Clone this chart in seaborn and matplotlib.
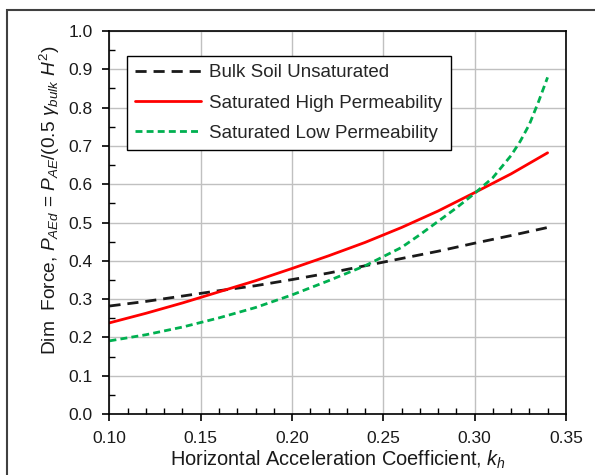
import matplotlib
matplotlib.use("Agg")
import matplotlib.pyplot as plt
import seaborn as sns
import pandas as pd
from matplotlib.ticker import MultipleLocator, FormatStrFormatter
from matplotlib.patches import Rectangle

# Data
kh_bulk = [0.10, 0.12, 0.14, 0.16, 0.18, 0.20, 0.22, 0.24, 0.26, 0.28, 0.30, 0.32, 0.34]
f_bulk = [0.282, 0.294, 0.308, 0.322, 0.335, 0.351, 0.368, 0.387, 0.406, 0.425, 0.446, 0.466, 0.487]

kh_high = [0.10, 0.12, 0.14, 0.16, 0.18, 0.20, 0.22, 0.24, 0.26, 0.28, 0.30, 0.32, 0.34]
f_high = [0.238, 0.263, 0.290, 0.319, 0.348, 0.380, 0.413, 0.448, 0.487, 0.530, 0.578, 0.627, 0.682]

kh_low = [0.10, 0.12, 0.14, 0.16, 0.18, 0.20, 0.22, 0.24, 0.26, 0.27, 0.28, 0.29, 0.30,
          0.31, 0.32, 0.325, 0.33, 0.335, 0.34]
f_low = [0.191, 0.207, 0.227, 0.251, 0.278, 0.311, 0.348, 0.387, 0.435, 0.468, 0.503, 0.538, 0.576,
         0.617, 0.675, 0.712, 0.756, 0.815, 0.879]

labels = ["Bulk Soil Unsaturated", "Saturated High Permeability", "Saturated Low Permeability"]

sns.set_theme(style="white")
plt.rcParams['font.family'] = ['Liberation Sans', 'DejaVu Sans']
plt.rcParams['mathtext.fontset'] = 'custom'
plt.rcParams['mathtext.rm'] = 'Liberation Sans'
plt.rcParams['mathtext.it'] = 'Liberation Sans:italic'

fig = plt.figure(figsize=(5.95, 4.75), dpi=100)
ax = fig.add_axes([0.184, 0.1284, 0.767, 0.8063])

df_b = pd.DataFrame({"kh": kh_bulk, "F": f_bulk})
df_h = pd.DataFrame({"kh": kh_high, "F": f_high})
df_l = pd.DataFrame({"kh": kh_low, "F": f_low})

sns.lineplot(data=df_b, x="kh", y="F", ax=ax, color="#1a1a1a", lw=2.0,
             label=labels[0])
ax.lines[-1].set_dashes([4, 2.5])
sns.lineplot(data=df_h, x="kh", y="F", ax=ax, color="#ff0000", lw=2.0,
             label=labels[1])
sns.lineplot(data=df_l, x="kh", y="F", ax=ax, color="#00b050", lw=2.0,
             label=labels[2])
ax.lines[-1].set_dashes([2.5, 1.5])

ax.set_xlim(0.10, 0.35)
ax.set_ylim(0.0, 1.0)
ax.xaxis.set_major_locator(MultipleLocator(0.05))
ax.xaxis.set_minor_locator(MultipleLocator(0.01))
ax.yaxis.set_major_locator(MultipleLocator(0.1))
ax.yaxis.set_minor_locator(MultipleLocator(0.05))
ax.xaxis.set_major_formatter(FormatStrFormatter('%.2f'))
ax.yaxis.set_major_formatter(FormatStrFormatter('%.1f'))

ax.grid(True, which='major', color='#c0c0c0', lw=1.0)
ax.set_axisbelow(True)
for s in ax.spines.values():
    s.set_color('black')
    s.set_linewidth(1.2)

ax.tick_params(which='major', direction='out', length=5, width=1.2, colors='black',
               labelsize=12.5, bottom=True, left=True, pad=7)
ax.tick_params(which='minor', direction='in', length=4, width=1.0, colors='black',
               bottom=True, left=True)
for t in ax.get_xticklabels() + ax.get_yticklabels():
    t.set_color('#1a1a1a')

ax.set_xlabel(r'Horizontal Acceleration Coefficient, $k_h$', fontsize=14.4, color='#1a1a1a', labelpad=2)
ax.set_ylabel(r'Dim  Force, $P_{AEd}$ = $P_{AE}$/(0.5 $\gamma_{bulk}$ $H^2$)', fontsize=13.8,
              color='#1a1a1a')
ax.yaxis.set_label_coords(-0.103, 0.558)

leg = ax.legend(loc='upper left', bbox_to_anchor=(0.038, 0.935), borderaxespad=0,
                fontsize=13.5, handlelength=3.5, frameon=True, fancybox=False,
                labelspacing=0.7, borderpad=0.45, handletextpad=0.45)
leg.get_frame().set_edgecolor('black')
leg.get_frame().set_linewidth(1.0)
leg.get_frame().set_alpha(1)

fig.patches.append(Rectangle((7/595, -0.1), 1.2, 1.1 - 10/475, transform=fig.transFigure,
                             fill=False, edgecolor='#404040', lw=1.5))

fig.savefig("out.png", dpi=100)
